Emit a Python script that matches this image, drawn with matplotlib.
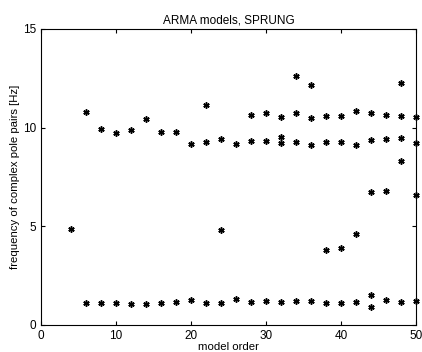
import matplotlib
matplotlib.use('Agg')
import matplotlib.pyplot as plt

plt.rcParams['font.family'] = ['Liberation Sans', 'DejaVu Sans']

# frequencies of complex pole pairs per model order
order = [4,
         6, 8, 10, 12, 14, 16, 18, 20, 22, 24, 26, 28, 30, 32, 34, 36, 38, 40, 42, 44, 44, 46, 48, 50,
         24, 38, 40, 42, 44, 46, 50,
         6, 8, 10, 12, 14, 16, 18, 20, 22, 22, 24, 26, 28, 28, 30, 30, 32, 32, 32,
         34, 34, 34, 36, 36, 36, 38, 38, 40, 40, 42, 42, 44, 44, 46, 46, 48, 48, 48, 48, 50, 50]
freq = [4.87,
        1.10, 1.10, 1.10, 1.06, 1.06, 1.11, 1.15, 1.27, 1.10, 1.11, 1.30, 1.15, 1.20, 1.17, 1.20, 1.20,
        1.13, 1.13, 1.18, 1.52, 0.93, 1.27, 1.18, 1.23,
        4.80, 3.78, 3.89, 4.63, 6.74, 6.79, 6.60,
        10.81, 9.95, 9.70, 9.88, 10.41, 9.78, 9.78, 9.17, 11.12, 9.29, 9.43, 9.17, 10.63, 9.33,
        10.73, 9.33, 10.51, 9.53, 9.24,
        12.62, 10.73, 9.29, 12.16, 10.46, 9.11, 10.59, 9.29, 10.59, 9.27, 10.83, 9.12,
        10.73, 9.39, 10.66, 9.43, 12.25, 10.59, 9.46, 8.31, 10.53, 9.24]

fig = plt.figure(figsize=(4.22, 3.52), dpi=100)
ax = fig.add_axes([0.097, 0.077, 0.889, 0.841])
# matlab style asterisk marker
ax.plot(order, freq, linestyle='none', marker=(6, 2, 0), color='black',
        markersize=4.5, markeredgewidth=1.1, clip_on=False)
ax.set_xlim(0, 50)
ax.set_ylim(0, 15)
ax.set_xticks([0, 10, 20, 30, 40, 50])
ax.set_yticks([0, 5, 10, 15])
ax.tick_params(direction='in', top=True, right=True, labelsize=8.5, length=3)
for s in ax.spines.values():
    s.set_linewidth(0.8)
ax.set_title('ARMA models, SPRUNG', fontsize=8.5, pad=4)
ax.set_xlabel('model order', fontsize=8.2, labelpad=0)
ax.set_ylabel('frequency of complex pole pairs [Hz]', fontsize=8.2, labelpad=2)
fig.savefig('out.png', dpi=100)
